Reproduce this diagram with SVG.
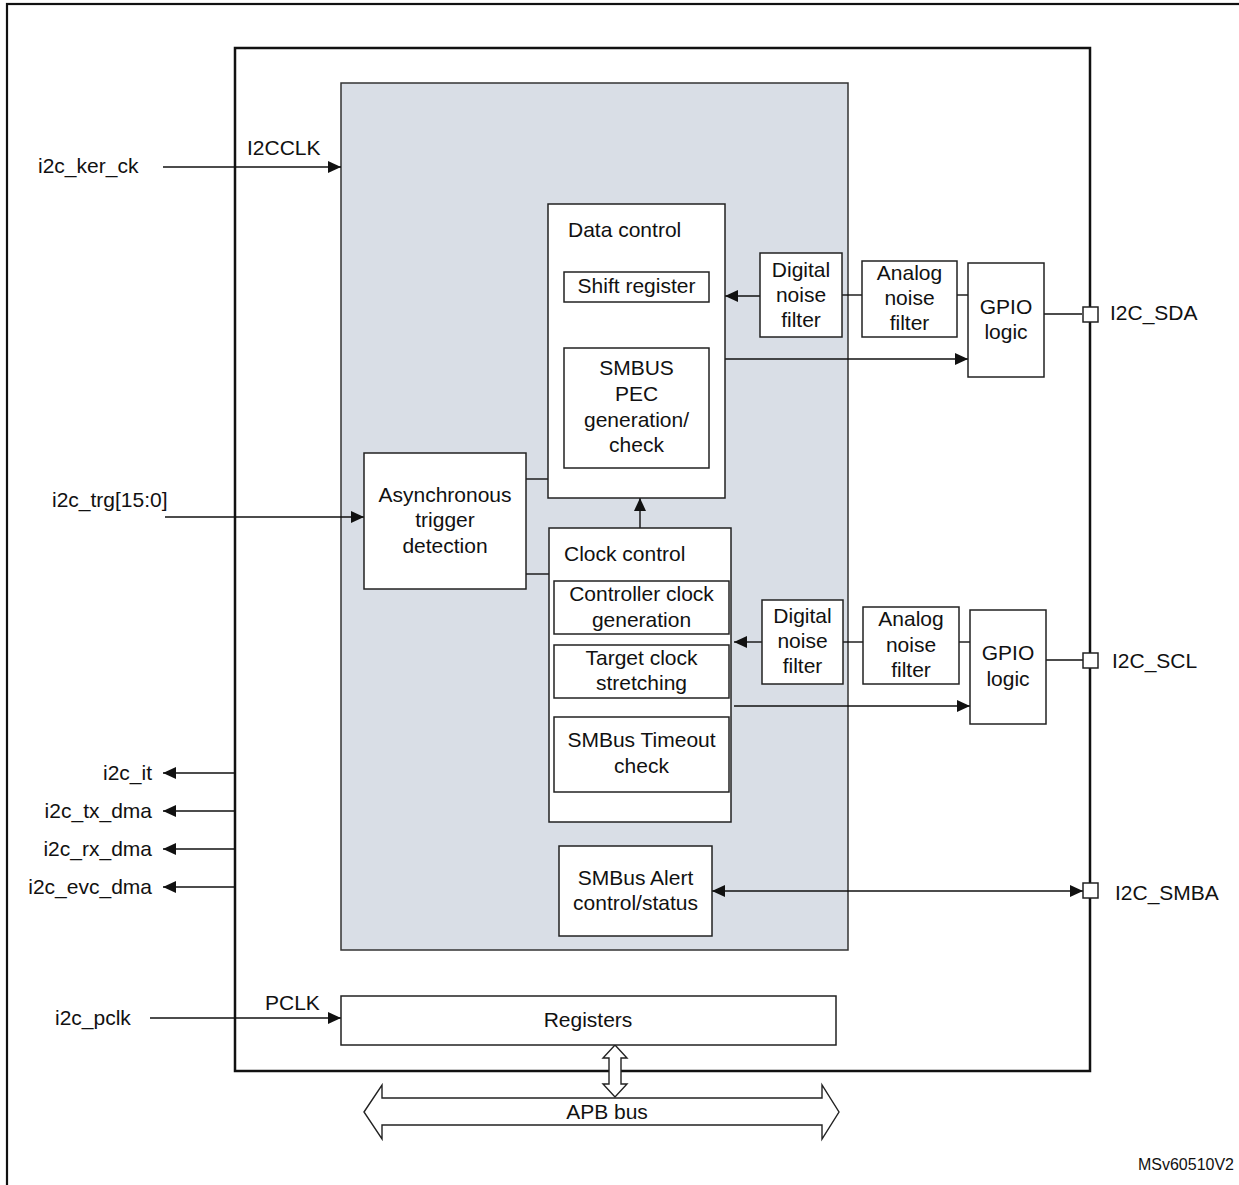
<svg xmlns="http://www.w3.org/2000/svg" width="1239" height="1185" viewBox="0 0 1239 1185">
<defs>
<marker id="ah" markerUnits="userSpaceOnUse" markerWidth="14" markerHeight="12" refX="13" refY="6" orient="auto-start-reverse">
<path d="M0,0 L13,6 L0,12 Z" fill="#111"/>
</marker>
</defs>
<style>
text{font-family:"Liberation Sans",Arial,sans-serif;font-size:21px;fill:#111}
.c{text-anchor:middle}
.e{text-anchor:end}
.box{fill:#fff;stroke:#222;stroke-width:1.5}
.ln{fill:none;stroke:#111;stroke-width:1.4}
.ar{fill:none;stroke:#111;stroke-width:1.4;marker-end:url(#ah)}
.pin{fill:#fff;stroke:#222;stroke-width:1.5}
</style>
<rect width="1239" height="1185" fill="#fff"/>
<rect id="frame" x="7" y="4" width="1250" height="1200" fill="none" stroke="#111" stroke-width="2.2"/>
<rect id="chip" x="235" y="48" width="855" height="1023" fill="#fff" stroke="#111" stroke-width="2.5"/>
<rect id="core" x="341" y="83" width="507" height="867" fill="#d9dee6" stroke="#333" stroke-width="1.5"/>

<g id="connectors">
<line class="ar" x1="163" y1="167" x2="341" y2="167"/>
<line class="ar" x1="165" y1="517" x2="364" y2="517"/>
<line class="ar" x1="150" y1="1018" x2="341" y2="1018"/>
<line class="ar" x1="235" y1="773" x2="163" y2="773"/>
<line class="ar" x1="235" y1="811" x2="163" y2="811"/>
<line class="ar" x1="235" y1="849" x2="163" y2="849"/>
<line class="ar" x1="235" y1="887" x2="163" y2="887"/>
<line class="ar" x1="760" y1="296" x2="725" y2="296"/>
<line class="ln" x1="842" y1="295" x2="862" y2="295"/>
<line class="ln" x1="957" y1="295" x2="968" y2="295"/>
<line class="ar" x1="725" y1="359" x2="968" y2="359"/>
<line class="ln" x1="1044" y1="314" x2="1082" y2="314"/>
<line class="ln" x1="526" y1="479" x2="548" y2="479"/>
<line class="ln" x1="526" y1="574" x2="549" y2="574"/>
<line class="ar" x1="640" y1="528" x2="640" y2="498"/>
<line class="ar" x1="762" y1="642" x2="734" y2="642"/>
<line class="ln" x1="843" y1="642" x2="863" y2="642"/>
<line class="ln" x1="959" y1="642" x2="970" y2="642"/>
<line class="ar" x1="734" y1="706" x2="970" y2="706"/>
<line class="ln" x1="1046" y1="660" x2="1083" y2="660"/>
<line class="ln" x1="712" y1="891" x2="1083" y2="891" style="marker-start:url(#ah);marker-end:url(#ah)"/>
<path id="reg-bus" d="M615,1045 L627,1058 L621,1058 L621,1084 L627,1084 L615,1097 L603,1084 L609,1084 L609,1058 L603,1058 Z" fill="#fff" stroke="#222" stroke-width="1.4"/>
</g>

<g id="pins">
<rect class="pin" x="1083" y="307" width="15" height="15"/>
<rect class="pin" x="1083" y="653" width="15" height="15"/>
<rect class="pin" x="1083" y="883" width="15" height="15"/>
</g>

<g id="labels">
<text x="38" y="173">i2c_ker_ck</text>
<text x="247" y="155">I2CCLK</text>
<text x="52" y="507">i2c_trg[15:0]</text>
<text class="e" x="152" y="780">i2c_it</text>
<text class="e" x="152" y="818">i2c_tx_dma</text>
<text class="e" x="152" y="856">i2c_rx_dma</text>
<text class="e" x="152" y="894">i2c_evc_dma</text>
<text x="55" y="1025">i2c_pclk</text>
<text x="265" y="1010">PCLK</text>
<text x="1110" y="320">I2C_SDA</text>
<text x="1112" y="668">I2C_SCL</text>
<text x="1115" y="900">I2C_SMBA</text>
<text class="e" x="1234" y="1170" style="font-size:16px">MSv60510V2</text>
</g>

<g id="data-control">
<rect class="box" x="548" y="204" width="177" height="294"/>
<text x="568" y="237">Data control</text>
</g>
<g id="shift-register">
<rect class="box" x="564" y="272" width="145" height="30"/>
<text class="c" x="636.5" y="293">Shift register</text>
</g>
<g id="smbus-pec">
<rect class="box" x="564" y="348" width="145" height="120"/>
<text class="c" x="636.5" y="375">SMBUS</text>
<text class="c" x="636.5" y="401">PEC</text>
<text class="c" x="636.5" y="427">generation/</text>
<text class="c" x="636.5" y="452">check</text>
</g>
<g id="digital-filter-sda">
<rect class="box" x="760" y="253" width="82" height="84"/>
<text class="c" x="801" y="277">Digital</text>
<text class="c" x="801" y="302">noise</text>
<text class="c" x="801" y="327">filter</text>
</g>
<g id="analog-filter-sda">
<rect class="box" x="862" y="261" width="95" height="76"/>
<text class="c" x="909.5" y="280">Analog</text>
<text class="c" x="909.5" y="305">noise</text>
<text class="c" x="909.5" y="330">filter</text>
</g>
<g id="gpio-sda">
<rect class="box" x="968" y="263" width="76" height="114"/>
<text class="c" x="1006" y="314">GPIO</text>
<text class="c" x="1006" y="339">logic</text>
</g>
<g id="async-trigger">
<rect class="box" x="364" y="453" width="162" height="136"/>
<text class="c" x="445" y="502">Asynchronous</text>
<text class="c" x="445" y="527">trigger</text>
<text class="c" x="445" y="553">detection</text>
</g>
<g id="clock-control">
<rect class="box" x="549" y="528" width="182" height="294"/>
<text x="564" y="561">Clock control</text>
</g>
<g id="controller-clock">
<rect class="box" x="554" y="581" width="175" height="53"/>
<text class="c" x="641.5" y="601">Controller clock</text>
<text class="c" x="641.5" y="627">generation</text>
</g>
<g id="target-clock">
<rect class="box" x="554" y="645" width="175" height="53"/>
<text class="c" x="641.5" y="665">Target clock</text>
<text class="c" x="641.5" y="690">stretching</text>
</g>
<g id="smbus-timeout">
<rect class="box" x="554" y="717" width="175" height="75"/>
<text class="c" x="641.5" y="747">SMBus Timeout</text>
<text class="c" x="641.5" y="773">check</text>
</g>
<g id="digital-filter-scl">
<rect class="box" x="762" y="600" width="81" height="84"/>
<text class="c" x="802.5" y="623">Digital</text>
<text class="c" x="802.5" y="648">noise</text>
<text class="c" x="802.5" y="673">filter</text>
</g>
<g id="analog-filter-scl">
<rect class="box" x="863" y="607" width="96" height="77"/>
<text class="c" x="911" y="626">Analog</text>
<text class="c" x="911" y="652">noise</text>
<text class="c" x="911" y="677">filter</text>
</g>
<g id="gpio-scl">
<rect class="box" x="970" y="610" width="76" height="114"/>
<text class="c" x="1008" y="660">GPIO</text>
<text class="c" x="1008" y="686">logic</text>
</g>
<g id="smbus-alert">
<rect class="box" x="559" y="846" width="153" height="90"/>
<text class="c" x="635.5" y="885">SMBus Alert</text>
<text class="c" x="635.5" y="910">control/status</text>
</g>
<g id="registers">
<rect class="box" x="341" y="996" width="495" height="49"/>
<text class="c" x="588" y="1027">Registers</text>
</g>
<g id="apb-bus">
<path d="M364,1112 L382,1085 L382,1098 L822,1098 L822,1085 L839,1112 L822,1139 L822,1125 L382,1125 L382,1139 Z" fill="#fff" stroke="#222" stroke-width="1.4"/>
<text class="c" x="607" y="1119">APB bus</text>
</g>
</svg>
